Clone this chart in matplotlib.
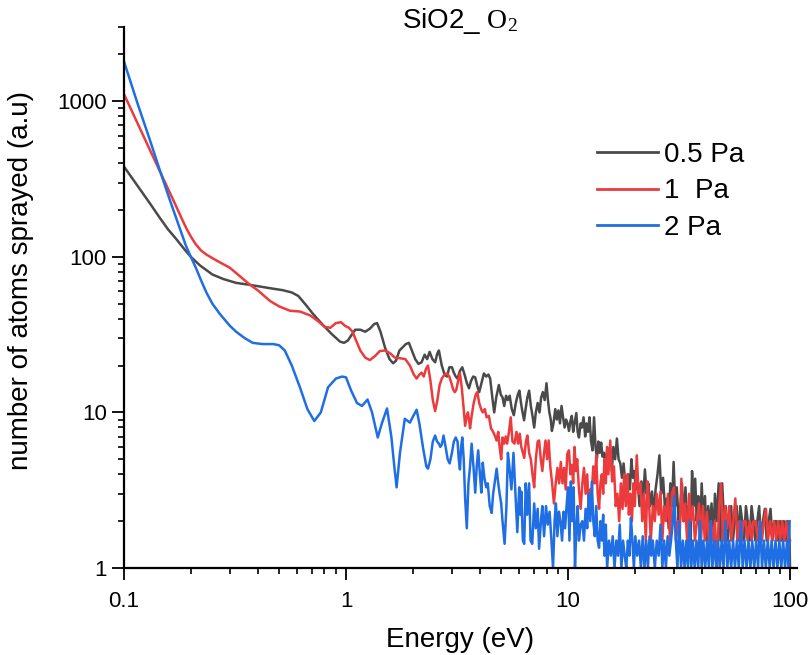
import matplotlib
matplotlib.use("Agg")
import matplotlib.pyplot as plt
from matplotlib.ticker import LogLocator, NullFormatter, FixedLocator, FixedFormatter

plt.rcParams['font.family'] = ['Liberation Sans', 'DejaVu Sans']
plt.rcParams['mathtext.fontset'] = 'custom'
plt.rcParams['mathtext.rm'] = 'Liberation Serif'

# ---------------- data (energy in eV, counts in a.u.) ----------------
series_labels = ["0.5 Pa", "1  Pa", "2 Pa"]
series_colors = ["#4a4a4a", "#ec3b3d", "#1f6ee3"]

pa05_points = [
    (0.100, 380), (0.115, 286), (0.131, 220), (0.145, 178), (0.158, 150), (0.172, 130),
    (0.186, 113), (0.200, 100), (0.220, 88), (0.250, 77), (0.280, 72), (0.320, 68), (0.370, 66),
    (0.450, 63), (0.520, 61), (0.570, 59), (0.610, 56), (0.660, 49), (0.710, 43),
    (0.780, 37), (0.860, 32), (0.940, 28.5), (0.980, 28), (1.02, 29), (1.06, 31.5),
    (1.10, 34), (1.16, 34), (1.22, 33), (1.28, 34.5), (1.34, 37), (1.38, 37.5),
    (1.43, 33), (1.50, 26), (1.57, 22), (1.63, 20.7), (1.68, 21.5), (1.74, 25),
    (1.79, 26), (1.86, 27.5), (1.92, 28), (1.98, 25), (2.05, 22), (2.12, 20.5),
    (2.19, 21), (2.26, 23.5), (2.32, 22), (2.38, 24.5), (2.45, 22), (2.52, 21),
    (2.58, 24), (2.62, 25), (2.70, 20), (2.78, 17.5), (2.85, 17), (2.92, 19.5),
    (3.00, 19.5), (3.06, 18), (3.12, 17), (3.18, 16.5), (3.26, 18.5), (3.34, 19.5),
    (3.42, 17.5), (3.50, 15.5), (3.58, 14.3), (3.66, 16), (3.74, 17), (3.82, 16.8),
    (3.90, 14.8), (3.98, 13.5), (4.08, 15.5), (4.18, 17.8), (4.28, 17), (4.38, 17.5),
    (4.46, 16.5), (4.56, 12.5), (4.65, 10), (4.75, 12.5), (4.88, 15), (4.98, 13),
    (5.07, 12.5), (5.16, 11), (5.26, 12.8), (5.36, 12), (5.46, 12.8), (5.58, 10.5),
    (5.70, 9.6), (5.82, 11.5), (5.94, 13), (6.04, 13.8), (6.14, 11.5), (6.24, 10),
    (6.34, 8.9), (6.44, 10.5), (6.56, 12.5), (6.68, 13.8), (6.80, 11), (6.92, 9.5),
    (7.04, 8), (7.16, 10), (7.30, 11.5), (7.44, 10), (7.57, 12.5), (7.70, 13.5),
    (7.85, 12), (8.00, 15.4), (8.12, 12), (8.24, 10), (8.36, 9), (8.46, 7.6),
    (8.60, 8.5), (8.76, 10.5), (8.90, 9), (9.05, 10.3), (9.20, 8.5), (9.35, 11),
    (9.50, 9.3), (9.65, 8), (9.80, 9), (9.95, 8.5), (10.1, 7.6), (10.25, 8.8),
    (10.4, 9.5), (10.55, 7.5), (10.7, 8.5), (10.9, 9.9), (11.05, 7.5), (11.2, 6.9),
    (11.4, 8.5), (11.55, 8), (11.75, 9.3), (11.95, 7), (12.1, 8.5), (12.3, 7.5),
    (12.5, 9.3), (12.7, 6.5), (12.9, 5.7), (13.1, 9.3), (13.3, 6), (13.5, 5.1),
    (13.7, 6.5), (13.9, 5.5), (14.1, 6.4), (14.3, 5.2), (14.5, 5.5), (14.75, 4.7),
    (15.0, 5.7), (15.25, 4.5), (15.5, 5.7), (15.75, 4.2), (16.0, 6), (16.3, 5),
    (16.6, 6.8), (16.9, 5), (17.2, 4.7), (17.5, 3.8), (17.8, 4.7), (18.1, 3.5),
    (18.4, 2.8), (18.7, 4), (19.0, 3.2), (19.3, 5.0), (19.6, 3.8), (19.9, 4.2),
    (20.2, 3.2), (20.6, 3.6), (21.0, 2.5), (21.4, 3.6), (21.8, 2.8), (22.2, 4.3),
    (22.6, 3.0), (23.0, 3.5), (23.4, 2.5), (23.9, 3.1), (24.3, 2.2), (24.8, 3.2),
    (25.3, 4.0), (25.8, 5.3), (26.3, 3.0), (26.8, 3.8), (27.3, 2.5), (27.9, 2.8),
    (28.4, 1.8), (28.9, 3.5), (29.4, 2.5), (29.9, 4.8), (30.4, 2.5), (30.9, 3.3),
    (31.5, 2.0), (32.0, 2.4), (32.6, 3.5), (33.2, 2.0), (33.8, 3.3), (34.4, 2.0),
    (35.0, 2.5), (35.6, 1.5), (36.2, 4.2), (36.8, 2.5), (37.4, 3.75), (38.0, 2.0),
    (38.6, 2.9), (39.3, 1.5), (40.0, 3.5), (40.7, 2.0), (41.4, 2.9), (42.1, 1.5),
    (42.8, 2.5), (43.5, 1.8), (44.3, 2.6), (45.1, 1.5), (45.9, 3.0), (46.8, 2.0),
    (47.7, 3.5), (48.6, 1.5), (49.5, 3.5), (50.4, 2.0), (51.3, 2.5), (52.3, 1.5),
    (53.3, 2.0), (54.3, 2.5), (55.3, 1.5), (56.4, 2.0), (57.5, 2.5), (58.6, 1.5),
    (59.7, 2.5), (60.9, 2.0), (62.1, 1.5), (63.3, 2.5), (64.5, 2.0), (65.8, 1.5),
    (67.1, 2.5), (68.4, 2.0), (69.8, 1.5), (71.2, 2.0), (72.6, 2.5), (74.0, 1.5),
    (75.5, 2.0), (77.0, 2.4), (78.5, 1.5), (80.1, 2.0), (81.7, 2.4), (83.3, 1.5),
    (85.0, 2.0), (86.7, 2.0), (88.4, 1.5), (90.2, 2.0), (92.0, 1.5), (93.8, 2.0),
    (95.7, 1.5), (97.6, 2.0), (99.5, 1.5), (100.0, 1.0),
]

pa1_points = [
    (0.100, 1110), (0.115, 723), (0.131, 484), (0.145, 354), (0.156, 283), (0.170, 218),
    (0.182, 176), (0.192, 150), (0.200, 135), (0.210, 121), (0.222, 110), (0.236, 103),
    (0.260, 95), (0.300, 85), (0.340, 73), (0.370, 66), (0.400, 61), (0.455, 52),
    (0.500, 48), (0.560, 45),
    (0.620, 44.5), (0.690, 42), (0.750, 38.5), (0.800, 35.5), (0.850, 35), (0.900, 37.5),
    (0.950, 38), (0.990, 36), (1.03, 35), (1.07, 33), (1.11, 29), (1.16, 25),
    (1.22, 22.5), (1.28, 21.7), (1.35, 23), (1.42, 24.8), (1.50, 25), (1.58, 24),
    (1.66, 22.5), (1.75, 22.3), (1.85, 22), (1.94, 20), (2.02, 17.5), (2.08, 16.5),
    (2.14, 17.5), (2.19, 18), (2.24, 17), (2.29, 19), (2.34, 20), (2.40, 16),
    (2.46, 12), (2.52, 10.2), (2.58, 12), (2.64, 15), (2.70, 16.5), (2.78, 17.5),
    (2.85, 17.8), (2.92, 17), (2.98, 15.5), (3.04, 14), (3.09, 13.5), (3.14, 14),
    (3.20, 16), (3.26, 17.8), (3.32, 14.5), (3.38, 11), (3.44, 8.2), (3.50, 9.5),
    (3.54, 10), (3.58, 9), (3.62, 7.9), (3.68, 9.5), (3.76, 11.5), (3.84, 13),
    (3.90, 13.5), (3.98, 11.5), (4.06, 10.5), (4.13, 10), (4.22, 10.5), (4.30, 9.3),
    (4.40, 9.5), (4.50, 7.9), (4.60, 7.5), (4.70, 7), (4.77, 6.6), (4.85, 7.5),
    (4.92, 6), (5.00, 5), (5.07, 6.9), (5.16, 6.3), (5.24, 7), (5.32, 6.3),
    (5.42, 7.5), (5.52, 9.3), (5.62, 6.5), (5.74, 6.3), (5.86, 7.5), (5.96, 6.3),
    (6.06, 7.3), (6.16, 6), (6.26, 5.5), (6.35, 5.1), (6.46, 6.5), (6.56, 7.1),
    (6.68, 5.5), (6.80, 5), (6.92, 4), (7.04, 3.3), (7.16, 5), (7.30, 6.5),
    (7.41, 6.6), (7.54, 5), (7.66, 4.2), (7.80, 5.5), (7.92, 6.6), (8.05, 5),
    (8.18, 6.6), (8.32, 4.5), (8.48, 3.5), (8.64, 2.6), (8.80, 3.5), (8.96, 4.4),
    (9.12, 3.5), (9.28, 4.8), (9.44, 3.5), (9.60, 4.4), (9.76, 3.2), (9.92, 5.4),
    (10.1, 5.7), (10.25, 4), (10.4, 4.6), (10.55, 3.5), (10.7, 6), (10.85, 4.2),
    (11.0, 5), (11.2, 3.2), (11.4, 2.4), (11.6, 3.5), (11.8, 4.4), (12.0, 3.0),
    (12.2, 4.0), (12.4, 2.5), (12.6, 3.2), (12.8, 3.1), (13.0, 4.5), (13.2, 3.5),
    (13.4, 5.3), (13.6, 3.0), (13.8, 2.4), (14.0, 3.5), (14.2, 4.0), (14.4, 3.0),
    (14.6, 5.0), (14.8, 3.5), (15.0, 6.0), (15.2, 4.0), (15.5, 6.6), (15.8, 3.6),
    (16.1, 4.5), (16.4, 2.5), (16.7, 3.0), (17.0, 2.0), (17.3, 3.5), (17.6, 2.4),
    (17.9, 4.0), (18.2, 2.5), (18.5, 4.0), (18.8, 2.2), (19.1, 3.0), (19.4, 2.0),
    (19.7, 3.5), (20.0, 2.5), (20.4, 5.3), (20.8, 3.0), (21.2, 3.5), (21.6, 2.0),
    (22.0, 3.0), (22.4, 1.5), (22.8, 3.6), (23.2, 2.5), (23.6, 1.5), (24.1, 2.5),
    (24.6, 2.0), (25.1, 3.0), (25.6, 2.2), (26.1, 3.1), (26.6, 1.5), (27.1, 2.5),
    (27.6, 2.0), (28.2, 3.0), (28.8, 1.5), (29.4, 3.0), (30.0, 3.3), (30.6, 1.5),
    (31.2, 2.0), (31.8, 1.5), (32.4, 3.75), (33.0, 2.0), (33.7, 2.6), (34.4, 1.5),
    (35.1, 3.0), (35.8, 2.0), (36.5, 2.5), (37.3, 1.5), (38.1, 2.0), (38.9, 2.6),
    (39.7, 1.5), (40.5, 2.5), (41.3, 1.5), (42.2, 2.3), (43.1, 1.5), (44.0, 2.0),
    (44.9, 1.5), (45.9, 2.0), (46.9, 1.0), (47.9, 2.5), (48.9, 3.5), (49.9, 1.5),
    (51.0, 2.5), (52.1, 1.8), (53.2, 2.5), (54.3, 1.5), (55.5, 2.0), (56.7, 2.8),
    (57.9, 1.5), (59.1, 2.0), (60.4, 1.5), (61.7, 2.0), (63.0, 2.0), (64.4, 1.5),
    (65.8, 2.0), (67.2, 1.5), (68.6, 2.0), (70.1, 2.0), (71.6, 1.5), (73.1, 2.0),
    (74.7, 1.5), (76.3, 2.0), (77.9, 2.4), (79.6, 1.5), (81.3, 2.0), (83.0, 1.5),
    (84.8, 2.0), (86.6, 1.5), (88.4, 2.0), (90.3, 1.5), (92.2, 2.0), (94.2, 1.5),
    (96.2, 2.0), (98.2, 1.5), (100.0, 1.5),
]

pa2_points = [
    (0.100, 1800), (0.115, 970), (0.131, 560), (0.145, 360), (0.161, 231), (0.179, 150),
    (0.190, 118), (0.200, 100), (0.210, 86), (0.222, 71), (0.235, 59), (0.250, 50),
    (0.270, 43), (0.300, 36),
    (0.320, 33), (0.350, 30), (0.380, 28), (0.420, 27.5), (0.470, 27.5), (0.500, 27),
    (0.530, 25), (0.570, 20), (0.620, 14.5), (0.670, 10.5), (0.720, 8.8), (0.770, 10),
    (0.830, 14.5), (0.900, 16.5), (0.960, 17), (1.00, 16.8), (1.055, 13.8), (1.12, 11.5),
    (1.18, 11), (1.25, 12.1), (1.31, 10), (1.39, 6.9), (1.45, 8.5), (1.53, 10.6),
    (1.60, 7), (1.65, 4.5), (1.69, 3.3), (1.75, 5.5), (1.84, 9.1), (1.94, 8.6),
    (2.01, 9.5), (2.08, 10.4), (2.14, 8.5), (2.22, 6), (2.30, 4.5), (2.34, 4.35),
    (2.40, 5), (2.46, 6.5), (2.52, 7.1), (2.57, 6.5), (2.62, 6.3), (2.66, 6.0),
    (2.70, 6.2), (2.75, 7.1), (2.81, 6), (2.87, 5), (2.93, 4.7), (3.00, 5.5),
    (3.06, 6.5), (3.12, 6.9), (3.18, 6.5), (3.22, 5), (3.26, 4.3), (3.30, 6.0),
    (3.34, 6.9), (3.39, 5), (3.44, 2.8), (3.50, 1.8), (3.56, 3.5), (3.62, 4.5),
    (3.68, 6.3), (3.75, 4.5), (3.82, 3.05), (3.88, 4.5), (3.94, 5.7), (4.01, 4),
    (4.07, 3.05), (4.13, 4.75), (4.20, 3.8), (4.28, 3.3), (4.35, 3.5), (4.44, 2.5),
    (4.53, 2.26), (4.60, 3), (4.67, 3.5), (4.77, 4.35), (4.85, 3.5), (4.92, 3.0),
    (5.00, 2.6), (5.07, 2.0), (5.18, 1.43), (5.28, 2.5), (5.36, 5.5), (5.44, 4.5),
    (5.56, 3.2), (5.68, 5.5), (5.80, 3), (5.91, 1.7), (6.03, 3.3), (6.10, 2.2),
    (6.16, 3.1), (6.26, 1.5), (6.35, 1.43), (6.45, 3.5), (6.55, 2.2), (6.68, 3.5),
    (6.78, 1.5), (6.90, 1.43), (7.04, 2.6), (7.16, 1.8), (7.30, 2.4), (7.41, 1.33),
    (7.55, 2.0), (7.66, 2.5), (7.80, 1.6), (7.96, 2.5), (8.10, 1.9), (8.26, 2.3),
    (8.42, 1.5), (8.56, 1.0), (8.70, 2.0), (8.82, 2.6), (8.96, 1.6), (9.10, 2.3),
    (9.25, 2.0), (9.40, 1.5), (9.55, 2.3), (9.70, 1.8), (9.85, 2.5), (10.0, 3.3),
    (10.15, 1.5), (10.3, 3.6), (10.45, 2.0), (10.6, 3.3), (10.75, 1.0), (10.9, 1.8),
    (11.05, 2.5), (11.2, 1.5), (11.4, 1.9), (11.6, 2.0), (11.8, 1.5), (12.0, 2.4),
    (12.2, 1.8), (12.4, 3.0), (12.6, 2.0), (12.8, 3.6), (13.0, 2.0), (13.2, 1.6),
    (13.4, 2.5), (13.6, 1.5), (13.8, 1.35), (14.0, 2.0), (14.2, 1.5), (14.4, 2.2),
    (14.6, 1.2), (14.8, 1.9), (15.0, 1.0), (15.3, 1.5), (15.6, 1.2), (15.9, 1.6),
    (16.2, 1.0), (16.5, 1.5), (16.8, 1.2), (17.1, 1.9), (17.4, 1.0), (17.7, 1.5),
    (18.0, 1.2), (18.3, 1.0), (18.6, 1.5), (18.9, 1.2), (19.2, 2.1), (19.5, 1.5),
    (19.8, 1.0), (20.1, 1.6), (20.5, 1.2), (20.9, 1.5), (21.3, 1.0), (21.7, 1.6),
    (22.1, 1.0), (22.5, 1.5), (22.9, 1.0), (23.3, 1.6), (23.7, 1.2), (24.1, 1.5),
    (24.6, 1.0), (25.1, 1.5), (25.6, 1.2), (26.1, 1.9), (26.6, 1.0), (27.1, 1.5),
    (27.6, 1.0), (28.1, 1.6), (28.6, 1.2), (29.1, 1.5), (29.6, 1.9), (30.1, 2.9),
    (30.6, 1.5), (31.1, 1.0), (31.7, 2.0), (32.3, 1.0), (32.9, 1.5), (33.5, 1.0),
    (34.1, 1.5), (34.7, 1.0), (35.3, 2.0), (35.9, 1.0), (36.5, 1.5), (37.2, 1.0),
    (37.9, 1.5), (38.6, 1.0), (39.3, 2.0), (40.0, 1.0), (40.7, 1.5), (41.5, 1.0),
    (42.3, 1.5), (43.1, 1.0), (43.9, 2.0), (44.7, 1.0), (45.6, 1.5), (46.5, 1.0),
    (47.4, 1.5), (48.3, 1.0), (49.2, 1.5), (50.2, 1.0), (51.2, 2.0), (52.2, 1.0),
    (53.2, 1.5), (54.3, 1.0), (55.4, 1.5), (56.5, 1.0), (57.6, 1.5), (58.8, 1.0),
    (60.0, 2.0), (61.2, 1.0), (62.4, 1.5), (63.7, 1.0), (65.0, 1.5), (66.3, 1.0),
    (67.6, 1.5), (69.0, 1.0), (70.4, 1.5), (71.8, 1.0), (73.3, 2.0), (74.8, 1.0),
    (76.3, 1.5), (77.8, 1.0), (79.4, 1.5), (81.0, 1.0), (82.6, 1.5), (84.3, 1.0),
    (86.0, 1.5), (87.7, 1.0), (89.5, 1.5), (91.3, 1.0), (93.1, 1.5), (95.0, 1.0),
    (96.9, 1.5), (98.8, 1.0), (99.6, 2.0),
]

x_ticks = [0.1, 1, 10, 100]
x_tick_labels = ["0.1", "1", "10", "100"]
y_ticks = [1, 10, 100, 1000]
y_tick_labels = ["1", "10", "100", "1000"]

# ---------------- figure ----------------
W, H = 809, 655
fig = plt.figure(figsize=(W / 100, H / 100), dpi=100)
ax = fig.add_axes([124 / W, 1 - 568 / H, (797 - 124) / W, (568 - 27) / H])

for pts, lab, col in zip([pa05_points, pa1_points, pa2_points], series_labels, series_colors):
    e = [p[0] for p in pts]
    n = [p[1] for p in pts]
    ax.plot(e, n, color=col, lw=1.8, label=lab, solid_joinstyle='round')

ax.set_xscale('log')
ax.set_yscale('log')
ax.set_xlim(0.1, 107.5)
ax.set_ylim(1, 3000)

for s in ['top', 'right']:
    ax.spines[s].set_visible(False)
for s in ['left', 'bottom']:
    ax.spines[s].set_linewidth(1.6)

ax.xaxis.set_major_locator(FixedLocator(x_ticks))
ax.xaxis.set_major_formatter(FixedFormatter(x_tick_labels))
ax.yaxis.set_major_locator(FixedLocator(y_ticks))
ax.yaxis.set_major_formatter(FixedFormatter(y_tick_labels))
ax.xaxis.set_minor_locator(LogLocator(base=10, subs=range(2, 10)))
ax.yaxis.set_minor_locator(LogLocator(base=10, subs=range(2, 10)))
ax.xaxis.set_minor_formatter(NullFormatter())
ax.yaxis.set_minor_formatter(NullFormatter())

ax.tick_params(axis='both', which='major', direction='out', length=8.5, width=1.3,
               labelsize=16, colors='black')
ax.tick_params(axis='both', which='minor', direction='out', length=4, width=1.2)
ax.tick_params(axis='x', which='major', pad=8)
ax.tick_params(axis='y', which='major', pad=4)

fig.text(460 / W, 1 - 28 / H, r"SiO2_ $\mathrm{O_2}$", ha='center', va='baseline',
         fontsize=20)
fig.text(460 / W, 1 - 647 / H, "Energy (eV)", ha='center', va='baseline', fontsize=20)
fig.text(21 / W, 1 - 281 / H, "number of atoms sprayed (a.u)", ha='center', va='center',
         rotation=90, fontsize=20)

leg = ax.legend(loc='upper left', bbox_to_anchor=(597 / W, 1 - 142 / H),
                bbox_transform=fig.transFigure, frameon=False, fontsize=20,
                borderpad=0, borderaxespad=0, handlelength=2.2, handletextpad=0.2,
                labelspacing=0.37)
for line in leg.get_lines():
    line.set_linewidth(2.0)

fig.savefig("out.png", dpi=100)
